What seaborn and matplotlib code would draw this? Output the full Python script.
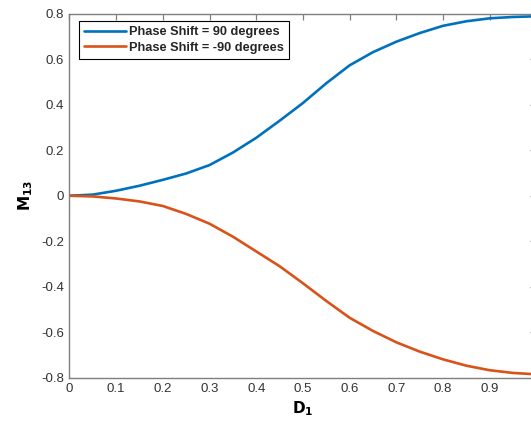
import matplotlib
matplotlib.use("Agg")
import matplotlib.pyplot as plt
import seaborn as sns
import pandas as pd

# Duty cycle D1 and the resulting M13 for the two phase shifts
d1 = [0.0, 0.05, 0.1, 0.15, 0.2, 0.25, 0.3, 0.35, 0.4, 0.45, 0.5,
      0.55, 0.6, 0.65, 0.7, 0.75, 0.8, 0.85, 0.9, 0.95, 1.0]
m13_pos90 = [0.0, 0.005, 0.022, 0.044, 0.07, 0.098, 0.135, 0.19, 0.255, 0.33, 0.408,
             0.495, 0.574, 0.632, 0.678, 0.716, 0.748, 0.768, 0.781, 0.787, 0.79]
m13_neg90 = [0.0, -0.003, -0.012, -0.025, -0.045, -0.08, -0.123, -0.18, -0.245, -0.31, -0.385,
             -0.463, -0.537, -0.595, -0.645, -0.686, -0.72, -0.748, -0.768, -0.78, -0.786]
series_names = ["Phase Shift = 90 degrees", "Phase Shift = -90 degrees"]
series_colors = ["#0072bd", "#d95319"]
x_ticks = [0, 0.1, 0.2, 0.3, 0.4, 0.5, 0.6, 0.7, 0.8, 0.9]
x_tick_labels = ["0", "0.1", "0.2", "0.3", "0.4", "0.5", "0.6", "0.7", "0.8", "0.9"]
y_ticks = [-0.8, -0.6, -0.4, -0.2, 0, 0.2, 0.4, 0.6, 0.8]
y_tick_labels = ["-0.8", "-0.6", "-0.4", "-0.2", "0", "0.2", "0.4", "0.6", "0.8"]

df = pd.concat([
    pd.DataFrame({"D1": d1, "M13": m13_pos90, "series": series_names[0]}),
    pd.DataFrame({"D1": d1, "M13": m13_neg90, "series": series_names[1]}),
])

sns.set_style("white")
plt.rcParams["font.family"] = ["Liberation Sans", "DejaVu Sans"]

fig = plt.figure(figsize=(5.31, 4.30), dpi=100)
# the plot box runs a little past the right edge of the canvas
ax = fig.add_axes([69.4 / 531, 1 - 377.5 / 430, 467 / 531, 363.5 / 430])

sns.lineplot(data=df, x="D1", y="M13", hue="series", hue_order=series_names,
             palette=series_colors, linewidth=1.9, ax=ax, legend=False)

ax.set_xlim(0, 1)
ax.set_ylim(-0.8, 0.8)
ax.set_xticks(x_ticks)
ax.set_xticklabels(x_tick_labels)
ax.set_yticks(y_ticks)
ax.set_yticklabels(y_tick_labels)

axis_gray = "#7f7f7f"
for side in ["left", "bottom", "top", "right"]:
    ax.spines[side].set_visible(True)
    ax.spines[side].set_color(axis_gray)
    ax.spines[side].set_linewidth(1.0)
ax.tick_params(axis="both", direction="in", length=4.5, width=0.9, color=axis_gray,
               labelsize=9.5, labelcolor="#333333", top=True, right=True, pad=4)

ax.set_xlabel(r"$\mathbf{D_1}$", fontsize=11, color="black", labelpad=3)
ax.set_ylabel(r"$\mathbf{M_{13}}$", fontsize=11, color="black", labelpad=4)

handles = [plt.Line2D([], [], color=c, linewidth=1.9) for c in series_colors]
leg = ax.legend(handles, series_names, loc="upper left", bbox_to_anchor=(0.0206, 0.981),
                prop={"weight": "bold", "size": 9.2}, frameon=True, fancybox=False,
                edgecolor="black", framealpha=1, handlelength=3.3, handletextpad=0.25,
                borderpad=0.4, labelspacing=0.28, borderaxespad=0)
leg.get_frame().set_linewidth(0.8)

fig.savefig("out.png", dpi=100)
